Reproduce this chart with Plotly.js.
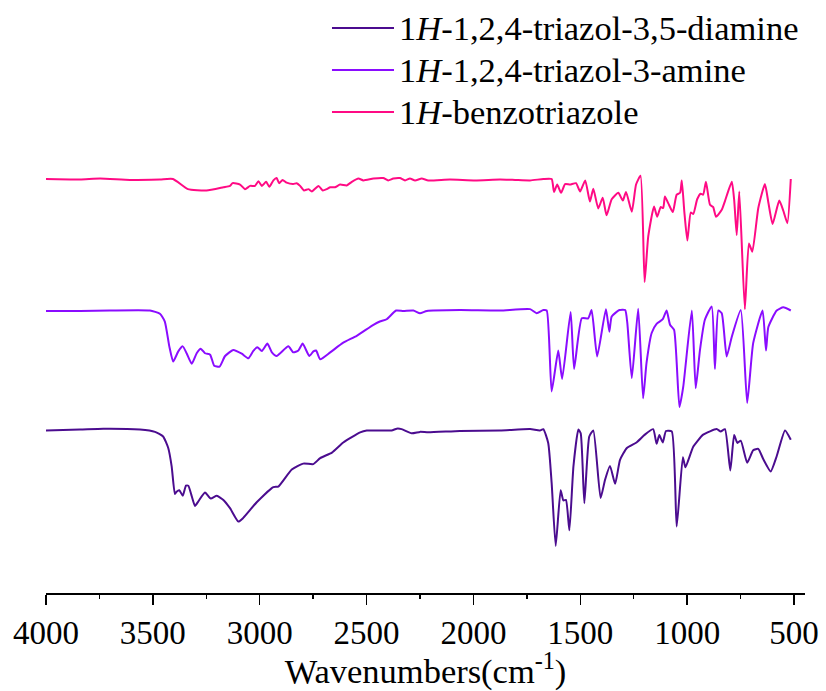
<!DOCTYPE html>
<html>
<head>
<meta charset="utf-8">
<script src="https://cdn.plot.ly/plotly-3.0.1.min.js"></script>
<style>html,body{margin:0;padding:0;background:#fff;}#chart{width:826px;height:691px;}</style>
</head>
<body>
<div id="chart"></div>
<script>
// Names
const seriesNames = [
  "1<i>H</i>-1,2,4-triazol-3,5-diamine",
  "1<i>H</i>-1,2,4-triazol-3-amine",
  "1<i>H</i>-benzotriazole"
];
const seriesColors = ["#4b0c8f", "#8a0cff", "#ff0a84"];

// 1H-benzotriazole (offset transmittance, a.u.)
const btaWn = [4000,3841,3747,3607,3467,3406,3336,3249,3170,3139,3127,3092,3069,3045,3022,3006,2990,2970,2955,2936,2921,2909,2893,2874,2843,2827,2811,2793,2772,2756,2725,2705,2686,2670,2648,2624,2593,2569,2538,2515,2468,2422,2399,2375,2344,2320,2297,2273,2242,2211,2110,1992,1876,1805,1735,1673,1634,1623,1608,1590,1571,1548,1520,1501,1477,1455,1439,1416,1395,1377,1353,1322,1301,1286,1259,1239,1218,1199,1182,1155,1140,1124,1112,1104,1088,1067,1049,1033,1025,1013,999,983,971,953,937,925,912,893,878,865,838,823,791,780,768,756,730,711,695,667,636,620,600,569,550,531,515];
const btaT  = [91.5,91.4,91.6,91.3,91.4,91.5,89.3,89.0,89.7,90.0,90.6,90.3,89.3,90.0,90.0,91.0,90.0,90.9,89.8,91.2,91.7,90.6,91.3,90.7,90.4,90.6,90.0,89.0,89.3,88.8,90.0,89.0,89.3,89.7,89.7,90.3,90.1,90.9,91.6,91.2,91.6,91.7,91.2,91.6,91.7,91.2,91.6,91.2,91.6,91.2,91.4,91.2,91.4,91.3,91.2,91.5,91.5,88.7,90.3,88.5,90.4,90.3,90.6,88.8,91.2,86.6,89.4,85.1,87.4,83.6,87.1,88.5,86.8,88.7,84.4,90.3,92.2,69.1,79.0,85.5,83.3,85.4,85.2,87.7,86.2,84.3,88.1,88.5,91.2,84.3,78.1,84.2,83.9,87.1,88.3,88.1,90.9,85.9,85.4,83.3,84.8,86.7,90.9,87.0,79.3,88.8,63.2,77.5,75.7,85.2,90.4,86.4,81.7,86.8,84.6,81.9,91.5];

// 1H-1,2,4-triazol-3-amine
const atWn = [4000,3841,3701,3514,3467,3444,3423,3405,3381,3360,3342,3318,3295,3276,3256,3232,3213,3188,3162,3124,3084,3053,3030,3011,2990,2964,2943,2921,2866,2843,2819,2799,2768,2749,2736,2717,2670,2609,2546,2468,2438,2406,2362,2328,2281,2250,2218,2063,1876,1735,1704,1673,1657,1634,1603,1585,1545,1529,1493,1463,1447,1421,1380,1364,1353,1317,1290,1280,1259,1229,1206,1190,1166,1143,1114,1096,1080,1061,1036,1018,978,960,940,917,885,870,854,838,815,791,749,719,691,647,631,620,581,550,515];
const atT  = [62.8,62.8,62.9,62.9,62.2,60.5,55.1,51.8,54.0,55.1,53.6,51.3,53.6,54.6,53.6,53.3,50.9,50.7,53.0,54.3,53.5,52.5,54.1,54.9,54.1,55.7,53.8,53.0,55.1,53.8,54.2,55.7,53.0,54.0,54.2,52.3,53.8,55.9,57.4,59.8,60.5,61.0,62.9,62.8,62.9,62.3,62.8,63.0,62.9,63.2,62.3,63.0,62.9,45.3,54.2,48.0,62.6,50.2,61.2,61.2,63.0,52.9,63.2,58.3,61.6,63.0,63.0,60.2,48.2,63.3,43.8,51.5,58.0,60.0,61.0,62.9,59.8,58.7,41.9,46.4,62.9,46.0,54.3,60.9,63.8,50.2,62.9,62.3,52.9,57.2,63.0,42.8,55.8,62.9,54.2,59.3,62.9,63.6,62.9];

// 1H-1,2,4-triazol-3,5-diamine
const dtWn = [4000,3841,3732,3560,3490,3452,3428,3412,3397,3389,3376,3360,3345,3334,3318,3303,3287,3256,3229,3201,3170,3139,3100,3077,3014,2936,2913,2850,2796,2749,2717,2662,2609,2530,2499,2383,2359,2336,2289,2250,2211,2063,1876,1735,1689,1673,1650,1634,1615,1592,1579,1567,1551,1532,1509,1498,1481,1458,1439,1405,1384,1361,1337,1314,1282,1237,1198,1159,1143,1130,1114,1099,1072,1049,1020,1008,971,925,862,843,823,798,780,765,749,719,691,667,644,609,581,542,515];
const dtT  = [36.8,37.0,37.2,37.0,36.5,35.5,33.0,29.0,23.0,23.5,23.8,22.6,24.8,24.8,22.5,20.4,21.4,23.3,22.0,22.6,21.7,19.9,17.0,17.8,21.2,24.5,24.6,28.3,29.6,29.5,30.8,32.0,34.2,36.4,36.8,36.8,37.2,37.1,36.2,36.5,36.4,36.7,36.8,37.1,36.8,37.1,34.1,25.4,11.7,23.8,21.6,21.7,15.1,29.0,37.0,36.2,21.0,35.5,36.8,22.1,26.1,29.1,25.2,30.4,33.0,34.2,35.9,37.1,33.9,35.8,34.2,36.7,36.6,15.9,31.0,28.8,33.3,35.9,37.1,36.6,37.1,28.1,35.8,34.1,34.6,29.8,32.5,32.8,30.6,27.9,31.2,36.8,34.8];

const xTicks = [4000,3500,3000,2500,2000,1500,1000,500];
const xTickText = ["4000","3500","3000","2500","2000","1500","1000","500"];
const xMinorTicks = [3750,3250,2750,2250,1750,1250,750];

const FONT = "Liberation Serif, Times New Roman, serif";

const series = [
  {x: dtWn, y: dtT, name: seriesNames[0], color: seriesColors[0]},
  {x: atWn, y: atT, name: seriesNames[1], color: seriesColors[1]},
  {x: btaWn, y: btaT, name: seriesNames[2], color: seriesColors[2]}
];
const traces = series.map(s => ({
  type: "scatter", mode: "lines", x: s.x, y: s.y, name: s.name,
  line: {color: s.color, width: 2, shape: "spline", smoothing: 0.5}
}));

// Legend drawn as key lines + text (paper coordinates)
const legendRowsY = [0.9691, 0.8971, 0.8251];
const legendShapes = series.map((s, i) => ({
  type: "line", xref: "paper", yref: "paper",
  x0: 0.3768, x1: 0.4585, y0: legendRowsY[i], y1: legendRowsY[i],
  line: {color: s.color, width: 2}
}));
const legendTexts = series.map((s, i) => ({
  xref: "paper", yref: "paper", x: 0.4630, y: legendRowsY[i],
  xanchor: "left", yanchor: "middle", showarrow: false, text: s.name,
  font: {family: FONT, size: 34.5, color: "#000"}
}));

const layout = {
  width: 826, height: 691,
  margin: {l: 46, r: 21, t: 10, b: 97.7, autoexpand: false},
  paper_bgcolor: "#fff", plot_bgcolor: "#fff",
  showlegend: false,
  shapes: legendShapes,
  annotations: legendTexts,
  xaxis: {
    range: [4000, 448.5], autorange: false,
    tickvals: xTicks, ticktext: xTickText,
    ticks: "outside", ticklen: 10, tickwidth: 1.5, tickcolor: "#000",
    minor: {tickvals: xMinorTicks, ticks: "outside", ticklen: 4, tickwidth: 1.5, tickcolor: "#000"},
    showline: true, linewidth: 1.5, linecolor: "#000",
    showgrid: false, zeroline: false,
    tickfont: {family: FONT, size: 33, color: "#000"},
    title: {text: "Wavenumbers(cm<sup>-1</sup>)", font: {family: FONT, size: 34.5, color: "#000"}, standoff: 0}
  },
  yaxis: {
    range: [1.457, 128.26], autorange: false, visible: false,
    showgrid: false, zeroline: false
  }
};

Plotly.newPlot("chart", traces, layout, {displayModeBar: false, staticPlot: true});
</script>
</body>
</html>
